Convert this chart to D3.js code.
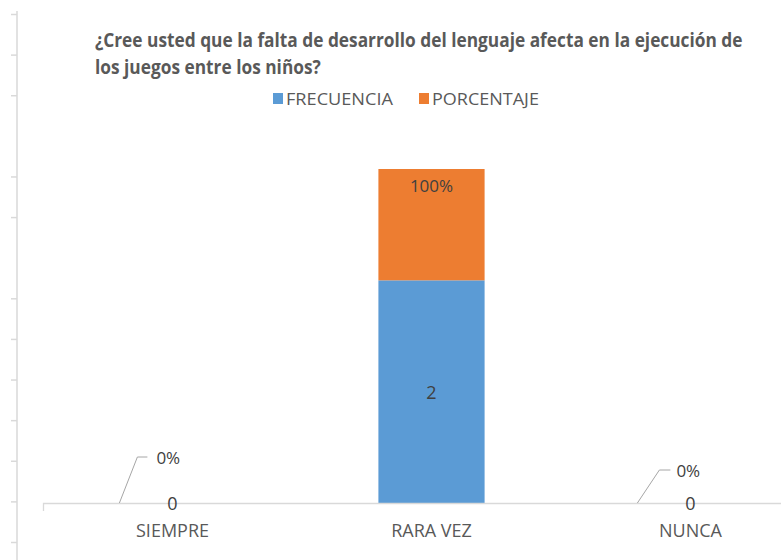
<!DOCTYPE html>
<html>
<head>
<meta charset="utf-8">
<script src="https://cdn.jsdelivr.net/npm/d3@7"></script>
<style>
  body { margin: 0; background: #fff; }
  svg { display: block; }
  text { font-family: "Liberation Sans Narrow", "Open Sans", sans-serif; }
</style>
</head>
<body>
<svg id="chart" width="781" height="560"></svg>
<script>
// datos del grafico
var categories = ["SIEMPRE", "RARA VEZ", "NUNCA"];
var frecuencia = [0, 2, 0];
var porcentaje = [0, 1, 0];
var porcentajeLabels = ["0%", "100%", "0%"];
var seriesNames = ["FRECUENCIA", "PORCENTAJE"];
var seriesColors = ["#5b9bd5", "#ed7d31"];
var titleLines = [
    "¿Cree usted que la falta de desarrollo del lenguaje afecta en la ejecución de",
    "los juegos entre los niños?"
];

var width = 781;
var height = 560;
var baseY = 503;

var svg = d3.select("#chart");

// squeeze a text horizontally so it takes the given width
function fitWidth(node, x0, y0, w) {
    var natural = node.getComputedTextLength();
    var k = w / natural;
    d3.select(node).attr("x", 0).attr("y", 0)
        .attr("transform", "translate(" + x0 + "," + y0 + ") scale(" + k + ",1)");
}

// eje cortado de otro grafico a la izquierda
var leftScale = d3.scaleLinear().domain([0, 13]).range([542, 14]);
var leftTicks = d3.range(0, 14).filter(function (d) { return d != 7 && d != 10; });
var leftAxis = svg.append("g")
    .attr("transform", "translate(17,0)")
    .call(d3.axisLeft(leftScale).tickValues(leftTicks).tickSize(6).tickSizeOuter(0).tickFormat(""));
leftAxis.select(".domain").remove();
leftAxis.selectAll("line").attr("stroke", "#d9d9d9").attr("stroke-width", 1.5);
svg.append("line")
    .attr("x1", 17).attr("x2", 17)
    .attr("y1", 11).attr("y2", height)
    .attr("stroke", "#d9d9d9").attr("stroke-width", 1.5);

var x = d3.scaleBand()
    .domain(categories)
    .range([43, 820])
    .paddingInner(0.59)
    .paddingOuter(0.295);

var y = d3.scaleLinear()
    .domain([0, 3])
    .range([baseY, 169]);

var rows = categories.map(function (c, i) {
    return { cat: c, FRECUENCIA: frecuencia[i], PORCENTAJE: porcentaje[i], i: i };
});
var stacked = d3.stack().keys(seriesNames)(rows);

// barras
svg.append("g").selectAll("g")
    .data(stacked)
    .enter().append("g")
    .attr("fill", function (d, i) { return seriesColors[i]; })
    .selectAll("rect")
    .data(function (d) { return d; })
    .enter().append("rect")
    .attr("x", function (d) { return x(d.data.cat); })
    .attr("y", function (d) { return y(d[1]); })
    .attr("width", x.bandwidth())
    .attr("height", function (d) { return y(d[0]) - y(d[1]); });

// eje x
var xAxis = svg.append("g")
    .attr("transform", "translate(0," + baseY + ")")
    .call(d3.axisBottom(x).tickSize(0).tickSizeOuter(8).tickPadding(20));
xAxis.select(".domain").attr("stroke", "#d9d9d9").attr("stroke-width", 1.3);
xAxis.selectAll("text")
    .attr("fill", "#595959")
    .style("font-size", "18px")
    .attr("dy", "0.35em")
    .attr("y", 28);

// etiquetas de frecuencia
var labelColor = "#404040";
svg.append("g").selectAll("text")
    .data(stacked[0])
    .enter().append("text")
    .attr("x", function (d) { return x(d.data.cat) + x.bandwidth() / 2; })
    .attr("y", function (d) { return d[1] > 0 ? (y(d[0]) + y(d[1])) / 2 : y(0); })
    .attr("text-anchor", "middle")
    .attr("dominant-baseline", "central")
    .attr("fill", labelColor)
    .style("font-size", "18px")
    .text(function (d) { return d.data.FRECUENCIA; });

// etiquetas de porcentaje (las de cero van con linea guia)
var leaderOffsets = { "SIEMPRE": { bx: 18, dy: -46, ex: 28, tx: 37 }, "NUNCA": { bx: 22, dy: -33, ex: 33, tx: 39 } };
var pctLabels = svg.append("g");
stacked[1].forEach(function (d) {
    var cat = d.data.cat;
    var label = porcentajeLabels[d.data.i];
    if (d[1] - d[0] > 0) {
        pctLabels.append("text")
            .attr("x", x(cat) + x.bandwidth() / 2)
            .attr("y", y(d[1]) + 16)
            .attr("text-anchor", "middle")
            .attr("dominant-baseline", "central")
            .attr("fill", labelColor)
            .style("font-size", "17px")
            .text(label);
    } else {
        var o = leaderOffsets[cat];
        var x0 = x(cat);
        var y0 = y(d[1]);
        pctLabels.append("path")
            .attr("d", "M" + x0 + "," + y0 + "L" + (x0 + o.bx) + "," + (y0 + o.dy) + "L" + (x0 + o.ex) + "," + (y0 + o.dy))
            .attr("fill", "none")
            .attr("stroke", "#a6a6a6")
            .attr("stroke-width", 1);
        pctLabels.append("text")
            .attr("x", x0 + o.tx)
            .attr("y", y0 + o.dy)
            .attr("dominant-baseline", "central")
            .attr("fill", labelColor)
            .style("font-size", "17px")
            .text(label);
    }
});

// titulo
var titleWidths = [648, 226];
svg.append("g").selectAll("text")
    .data(titleLines)
    .enter().append("text")
    .attr("fill", "#595959")
    .style("font-size", "20px")
    .style("font-weight", "bold")
    .text(function (d) { return d; })
    .each(function (d, i) { fitWidth(this, 95, 47 + i * 27, titleWidths[i]); });

// leyenda
var legendX = [273, 419];
var legend = svg.append("g").selectAll("g")
    .data(seriesNames)
    .enter().append("g")
    .attr("transform", function (d, i) { return "translate(" + legendX[i] + ",92)"; });
legend.append("rect")
    .attr("width", 10).attr("height", 11).attr("y", 1)
    .attr("fill", function (d, i) { return seriesColors[i]; });
legend.append("text")
    .attr("dominant-baseline", "central")
    .attr("fill", "#595959")
    .style("font-size", "17px")
    .text(function (d) { return d; })
    .each(function (d) { fitWidth(this, 13, 6.5, 107); });
</script>
</body>
</html>
